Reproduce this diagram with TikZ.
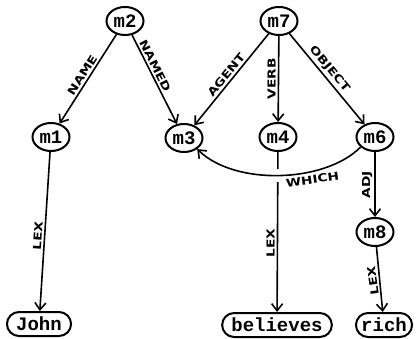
\documentclass[tikz,border=0pt]{standalone}
\usepackage{fontspec}
\usetikzlibrary{arrows.meta,shapes.geometric,shapes.misc}
\newfontfamily\nodefnt{Liberation Mono}
\newfontfamily\labfnt[FakeStretch=1.25]{DejaVu Sans}
\begin{document}
\begin{tikzpicture}[x=1pt,y=-1pt,
  mnode/.style={ellipse, draw, line width=2pt, minimum width=37pt, minimum height=28pt, inner sep=0pt, font=\nodefnt\bfseries\fontsize{19}{19}\selectfont},
  wnode/.style={rounded rectangle, draw, line width=2pt, minimum height=24pt, inner xsep=7pt, inner ysep=0pt, font=\nodefnt\bfseries\fontsize{19}{19}\selectfont},
  arr/.style={line width=1.6pt, -{Straight Barb[length=7pt,width=11pt,line width=1.6pt]}},
  lab/.style={font=\labfnt\bfseries\fontsize{11}{11}\selectfont, inner sep=2pt}
]
\useasboundingbox (0,0) rectangle (417,339);
\node[mnode] (m2) at (125,21) {m2};
\node[mnode] (m7) at (279,21) {m7};
\node[mnode] (m1) at (51,137) {m1};
\node[mnode] (m3) at (184,138) {m3};
\node[mnode] (m4) at (278,137) {m4};
\node[mnode] (m6) at (375,137) {m6};
\node[mnode] (m8) at (375,232) {m8};
\node[wnode] (john) at (39,324) {John};
\node[wnode] (believes) at (277,325) {believes};
\node[wnode, inner xsep=3pt] (rich) at (384,325) {rich};

\draw[arr] (m2) -- node[lab, sloped, above, pos=0.5] {NAME} (m1);
\draw[arr] (m2) -- node[lab, sloped, above, pos=0.38] {NAMED} (m3);
\draw[arr] (m7) -- node[lab, sloped, above, pos=0.5] {AGENT} (m3);
\draw[arr] (m7) -- node[lab, rotate=90, anchor=south, pos=0.5] {VERB} (m4);
\draw[arr] (m7) -- node[lab, sloped, above, pos=0.45] {OBJECT} (m6);
\draw[arr] (m6) -- node[lab, rotate=90, anchor=south, pos=0.5] {ADJ} (m8);
\draw[arr] (m1) -- node[lab, rotate=86, anchor=south, pos=0.53] {LEX} (john);
\draw[arr] (m4) -- node[lab, rotate=90, anchor=south, pos=0.57] {LEX} (believes);
\draw[arr] (m8) -- node[lab, rotate=98, anchor=south, pos=0.5] {LEX} (rich);
\fill[white] (271,169) rectangle (285,182);
\draw[arr] (m6.215) .. controls (325,183) and (235,186) .. node[lab, rotate=8, anchor=north, pos=0.33, yshift=-1pt] {WHICH} (m3.-40);
\end{tikzpicture}
\end{document}
